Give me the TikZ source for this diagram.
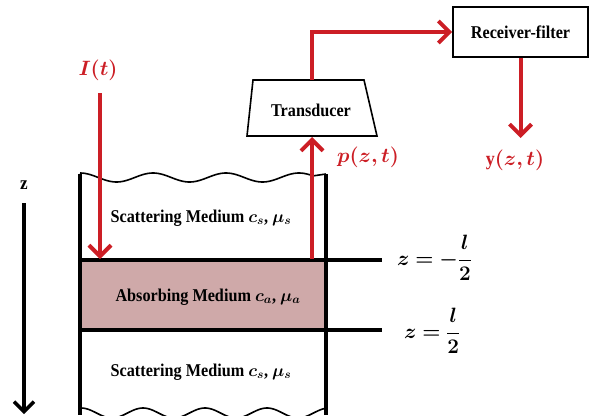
\documentclass[tikz,border=0pt]{standalone}
\usepackage{amsmath,amssymb,bm}
\usepackage{fontspec}
\setmainfont{Liberation Serif}[FakeStretch=0.9]
\usetikzlibrary{arrows.meta,shapes.geometric,calc}
\definecolor{sigred}{HTML}{CC1E25}
\definecolor{absfill}{HTML}{CFA9A9}
\tikzset{
  wall/.style={line width=4pt},
  layerline/.style={line width=4pt},
  sig/.style={draw=sigred, line width=4pt, -{Straight Barb[length=11pt,width=22pt,line width=4pt]}},
  wave/.style={line width=1.6pt},
  lbl/.style={font=\fontsize{18}{21}\selectfont\bfseries, inner sep=0pt},
  mathlbl/.style={text=sigred, font=\fontsize{20}{24}\selectfont\bfseries, inner sep=0pt},
  zlbl/.style={font=\fontsize{21}{25}\selectfont\bfseries, inner sep=0pt},
  box/.style={draw, line width=1.6pt, line join=miter},
  boxtext/.style={font=\fontsize{18}{21}\selectfont\bfseries, inner sep=0pt}
}
\begin{document}
\begin{tikzpicture}[x=1pt,y=-1pt]
\useasboundingbox (0,0) rectangle (596,415);
\begin{scope}
\clip (0,0) rectangle (596,415);
% absorbing layer
\node[fill=absfill, minimum width=246pt, minimum height=71pt, inner sep=0pt, anchor=north west] (abs) at (80,259.5) {};
% top wave
\draw[wave] plot[domain=80:313, samples=120, smooth] (\x, {177.5 - 4.5*cos((\x-153)/73*360)}) -- (326,174);
% bottom wave
\draw[wave] plot[domain=80:326, samples=120, smooth] (\x, {413 - 5*cos((\x-143)/62*360)});
% walls
\draw[wall] (80,174) -- (80,415);
\draw[wall] (326,174) -- (326,415);
% layer lines
\coordinate (topR) at (382,260);
\coordinate (botR) at (382,330);
\draw[layerline] (78,260) -- (topR);
\draw[layerline] (78,330) -- (botR);
% z axis
\node[font=\fontsize{19}{21}\selectfont\bfseries, inner sep=0pt] (zl) at (24,185) {z};
\coordinate (za) at (24,203);
\coordinate (zb) at (24,414);
\draw[line width=3.5pt, -{Straight Barb[length=10pt,width=20pt,line width=3.5pt]}] (za) -- (zb);
\end{scope}
% texts
\node[lbl] (sc1) at (201,218) {Scattering Medium $\bm{c_s}$, $\bm{\mu_s}$};
\node[lbl] (abt) at (208,297) {Absorbing Medium $\bm{c_a}$, $\bm{\mu_a}$};
\node[lbl] (sc2) at (201,372) {Scattering Medium $\bm{c_s}$, $\bm{\mu_s}$};
\node[zlbl, anchor=west] (zm) at (397,258) {$\bm{z=-\dfrac{\bm{l}}{\bm{2}}}$};
\node[zlbl, anchor=west] (zp) at (404,331) {$\bm{z=\dfrac{\bm{l}}{\bm{2}}}$};
% transducer and receiver
\draw[box] (253,80) -- (364,80) -- (377,136) -- (247,136) -- cycle;
\node[boxtext] (tr) at (311,110) {Transducer};
\node[box, boxtext, minimum width=135pt, minimum height=50pt] (rec) at (520.5,32) {Receiver-filter};
% signals
\node[mathlbl] (It) at (98,70) {$\bm{I(t)}$};
\coordinate (Istart) at (100,93);
\coordinate (Iend) at (100,259);
\draw[sig] (Istart) -- (Iend);
\coordinate (pstart) at (312,259);
\coordinate (pend) at (312,137);
\draw[sig] (pstart) -- (pend);
\node[mathlbl] (pl) at (368,157) {$\bm{p(z,t)}$};
\coordinate (tup) at (312,80);
\draw[sig] (tup) |- (rec.west);
\coordinate (yend) at (520.5,138);
\draw[sig] (rec.south) -- (yend);
\node[mathlbl] (yl) at (515,160) {y$\bm{(z,t)}$};
\end{tikzpicture}
\end{document}
